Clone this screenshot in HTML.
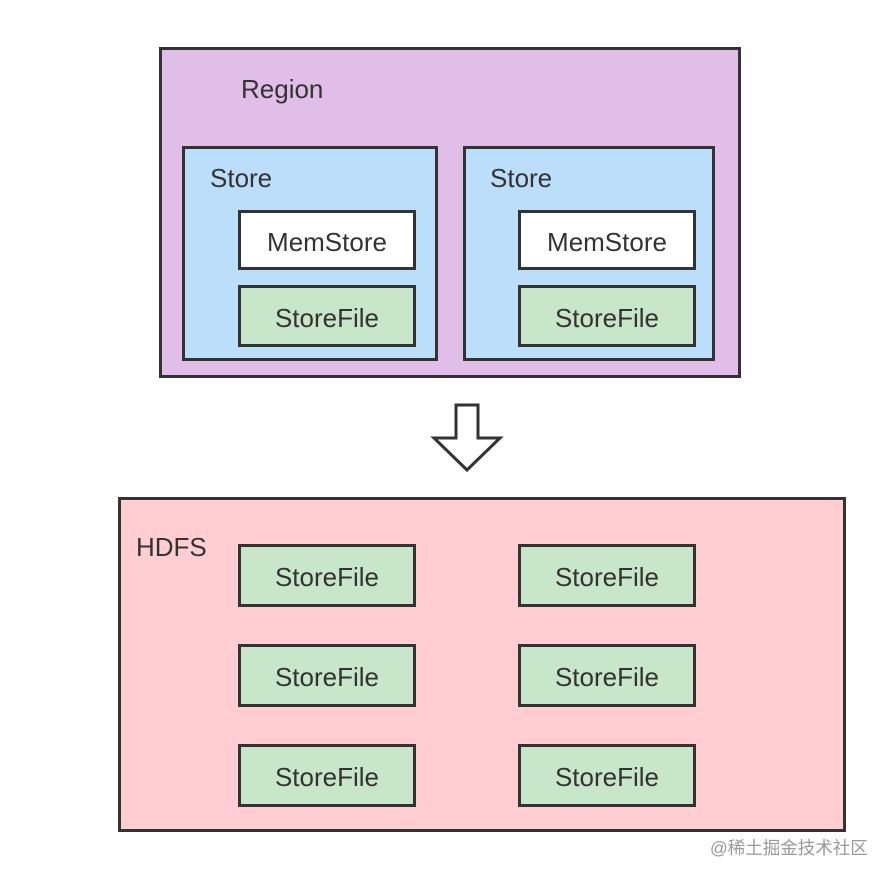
<!DOCTYPE html>
<html><head><meta charset="utf-8"><style>
body{margin:0;width:894px;height:881px;background:#fff;position:relative;overflow:hidden;font-family:"Liberation Sans","Noto Sans CJK SC",sans-serif;color:#333}
.b{position:absolute;box-sizing:border-box;border:3px solid #333}
.t{position:absolute;font-size:26px;color:#333;white-space:nowrap}
.sf{background:#c8e6c9;display:flex;align-items:center;justify-content:center;font-size:26px;padding-top:4px}
.ms{background:#fff;display:flex;align-items:center;justify-content:center;font-size:26px;padding-top:4px}
</style></head><body>
<div class="b" style="left:159px;top:47px;width:582px;height:331px;background:#e1bee7"></div>
<div class="t" style="left:241px;top:74px">Region</div>
<div class="b" style="left:182px;top:146px;width:256px;height:215px;background:#bbdefb"></div>
<div class="t" style="left:210px;top:163px">Store</div>
<div class="b" style="left:463px;top:146px;width:252px;height:215px;background:#bbdefb"></div>
<div class="t" style="left:490px;top:163px">Store</div>
<div class="b ms" style="left:238px;top:210px;width:178px;height:60px">MemStore</div>
<div class="b sf" style="left:238px;top:285px;width:178px;height:62px">StoreFile</div>
<div class="b ms" style="left:518px;top:210px;width:178px;height:60px">MemStore</div>
<div class="b sf" style="left:518px;top:285px;width:178px;height:62px">StoreFile</div>
<svg style="position:absolute;left:0;top:0" width="894" height="881"><polygon points="456,405 478,405 478,438 500,438 467,470 434,438 456,438" fill="#fff" stroke="#333" stroke-width="3" stroke-linejoin="miter"/></svg>
<div class="b" style="left:118px;top:497px;width:728px;height:335px;background:#ffcdd2"></div>
<div class="t" style="left:136px;top:532px">HDFS</div>
<div class="b sf" style="left:238px;top:544px;width:178px;height:63px">StoreFile</div>
<div class="b sf" style="left:518px;top:544px;width:178px;height:63px">StoreFile</div>
<div class="b sf" style="left:238px;top:644px;width:178px;height:63px">StoreFile</div>
<div class="b sf" style="left:518px;top:644px;width:178px;height:63px">StoreFile</div>
<div class="b sf" style="left:238px;top:744px;width:178px;height:63px">StoreFile</div>
<div class="b sf" style="left:518px;top:744px;width:178px;height:63px">StoreFile</div>
<div style="position:absolute;left:710px;top:835px;font-size:17.5px;color:#999">@稀土掘金技术社区</div>
</body></html>
